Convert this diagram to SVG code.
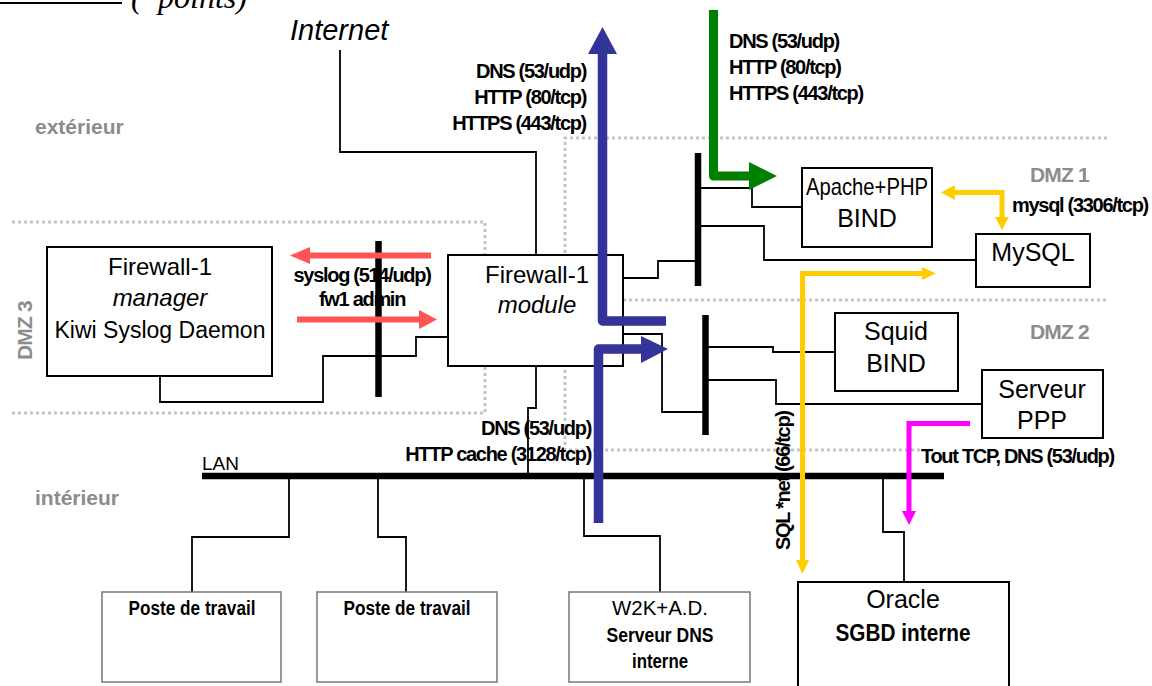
<svg xmlns="http://www.w3.org/2000/svg" width="1152" height="686" viewBox="0 0 1152 686">
<style>
  .box { fill: #fff; stroke: #000; stroke-width: 2; }
  .gbox { fill: #fff; stroke: #777; stroke-width: 1.5; }
  .wire { fill: none; stroke: #000; stroke-width: 1.8; }
  .bar { fill: none; stroke: #000; stroke-width: 6.5; }
  .zone { fill: none; stroke: #c4c4c4; stroke-width: 3; stroke-dasharray: 3 3; }
  .t { font-family: "Liberation Sans", Arial, sans-serif; fill: #000; }
  .n { text-anchor: middle; }
  .lbl { font-family: "Liberation Sans", Arial, sans-serif; font-weight: bold; font-size: 20px; letter-spacing: -1.3px; fill: #000; }
  .zl { font-family: "Liberation Sans", Arial, sans-serif; font-weight: bold; font-size: 21px; fill: #8c8c8c; }
  .blue { fill: none; stroke: #333399; stroke-width: 9.5; stroke-linejoin: round; }
  .green { fill: none; stroke: #008000; stroke-width: 9; stroke-linejoin: round; }
  .red { fill: none; stroke: #ff5555; stroke-width: 6; }
  .yel { fill: none; stroke: #ffcc00; stroke-width: 5; }
  .mag { fill: none; stroke: #ff00ff; stroke-width: 5; }
</style>

<!-- cut-off header -->
<line x1="0" y1="3" x2="122" y2="3" stroke="#000" stroke-width="2"/>
<text font-family="Liberation Serif, serif" font-style="italic" font-size="32" y="8"><tspan x="131">(</tspan><tspan x="158">points)</tspan></text>

<!-- zones -->
<g id="zones">
  <polyline class="zone" points="1107,138 565,138 565,450 920,450"/>
  <polyline class="zone" points="12,222 485,222 485,413 12,413"/>
  <line class="zone" x1="623" y1="300" x2="1107" y2="300"/>
  <text class="zl" x="35" y="134">extérieur</text>
  <text class="zl" x="35" y="505">intérieur</text>
  <text class="zl" x="1030" y="182" letter-spacing="-0.8">DMZ 1</text>
  <text class="zl" x="1030" y="339" letter-spacing="-0.8">DMZ 2</text>
  <text class="zl" transform="translate(32,360) rotate(-90)" letter-spacing="-0.8">DMZ 3</text>
</g>

<!-- connectors -->
<g id="connectors">
  <polyline class="wire" points="340,50 340,152 536,152 536,255"/>
  <polyline class="wire" points="623,278 658,278 658,261 697,261"/>
  <polyline class="wire" points="698,188 752,188 752,207 802,207"/>
  <polyline class="wire" points="698,226 764,226 764,260 976,260"/>
  <polyline class="wire" points="623,334 662,334 662,412 705,412"/>
  <polyline class="wire" points="705,347 773,347 773,352 835,352"/>
  <polyline class="wire" points="705,380 776,380 776,404 982,404"/>
  <polyline class="wire" points="448,337 416,337 416,356 323,356 323,402 160,402 160,376"/>
  <polyline class="wire" points="536,366 536,408 528,408 528,476"/>
  <polyline class="wire" points="289,476 289,537 192,537 192,592"/>
  <polyline class="wire" points="378,476 378,537 406,537 406,592"/>
  <polyline class="wire" points="584,476 584,536 660,536 660,592"/>
  <polyline class="wire" points="883,476 883,532 904,532 904,582"/>
  <!-- bus bars -->
  <line class="bar" x1="378.5" y1="241" x2="378.5" y2="397"/>
  <line class="bar" x1="698" y1="153" x2="698" y2="286"/>
  <line class="bar" x1="705.5" y1="315" x2="705.5" y2="435"/>
  <line class="bar" x1="202" y1="476" x2="944" y2="476"/>
  <text class="t" x="202" y="470" font-size="19">LAN</text>
  <text class="t" x="290" y="40" font-size="29" font-style="italic">Internet</text>
</g>

<!-- nodes -->
<g id="fw-manager">
  <rect class="box" x="47" y="247" width="225" height="129"/>
  <text class="t n" x="160" y="275" font-size="24">Firewall-1</text>
  <text class="t n" x="160" y="306" font-size="24" font-style="italic">manager</text>
  <text class="t n" x="160" y="338" font-size="23">Kiwi Syslog Daemon</text>
</g>
<g id="fw-module">
  <rect class="box" x="448" y="255" width="175" height="111"/>
  <text class="t n" x="537" y="283" font-size="24">Firewall-1</text>
  <text class="t n" x="537" y="313" font-size="24" font-style="italic">module</text>
</g>
<g id="apache">
  <rect class="box" x="802" y="168" width="130" height="79"/>
  <text class="t n" x="867" y="195" font-size="24" textLength="122" lengthAdjust="spacingAndGlyphs">Apache+PHP</text>
  <text class="t n" x="867" y="227" font-size="25">BIND</text>
</g>
<g id="mysql">
  <rect class="box" x="976" y="234" width="114" height="53"/>
  <text class="t n" x="1033" y="261" font-size="25">MySQL</text>
</g>
<g id="squid">
  <rect class="box" x="835" y="313" width="123" height="78"/>
  <text class="t n" x="896" y="340" font-size="25">Squid</text>
  <text class="t n" x="896" y="372" font-size="25">BIND</text>
</g>
<g id="ppp">
  <rect class="box" x="982" y="370" width="121" height="68"/>
  <text class="t n" x="1042" y="398" font-size="25">Serveur</text>
  <text class="t n" x="1042" y="429" font-size="25">PPP</text>
</g>
<g id="poste1">
  <rect class="gbox" x="102" y="592" width="179" height="90"/>
  <text class="t n" x="192" y="615" font-size="20" font-weight="bold" textLength="127" lengthAdjust="spacingAndGlyphs">Poste de travail</text>
</g>
<g id="poste2">
  <rect class="gbox" x="317" y="592" width="180" height="90"/>
  <text class="t n" x="407" y="615" font-size="20" font-weight="bold" textLength="127" lengthAdjust="spacingAndGlyphs">Poste de travail</text>
</g>
<g id="w2k">
  <rect class="gbox" x="569" y="592" width="181" height="90"/>
  <text class="t n" x="660" y="615" font-size="20" textLength="96" lengthAdjust="spacingAndGlyphs">W2K+A.D.</text>
  <text class="t n" x="660" y="642" font-size="20" font-weight="bold" textLength="107" lengthAdjust="spacingAndGlyphs">Serveur DNS</text>
  <text class="t n" x="660" y="668" font-size="20" font-weight="bold" textLength="56" lengthAdjust="spacingAndGlyphs">interne</text>
</g>
<g id="oracle">
  <rect class="box" x="798" y="582" width="211" height="120"/>
  <text class="t n" x="903" y="608" font-size="25">Oracle</text>
  <text class="t n" x="903" y="641" font-size="23" font-weight="bold" textLength="135" lengthAdjust="spacingAndGlyphs">SGBD interne</text>
</g>

<!-- flow arrows -->
<g id="flows">
  <!-- blue outbound -->
  <polyline class="blue" points="666,321 602.5,321 602.5,52"/>
  <polygon points="588,54 617,54 602.5,27" fill="#333399"/>
  <text class="lbl" x="586" y="78" text-anchor="end">DNS (53/udp)</text>
  <text class="lbl" x="586" y="104" text-anchor="end">HTTP (80/tcp)</text>
  <text class="lbl" x="586" y="130" text-anchor="end">HTTPS (443/tcp)</text>
  <!-- blue LAN to proxy -->
  <polyline class="blue" points="598.5,523 598.5,349 643,349"/>
  <polygon points="641,336 641,363 668,349" fill="#333399"/>
  <text class="lbl" x="591" y="435" text-anchor="end">DNS (53/udp)</text>
  <text class="lbl" x="591" y="461" text-anchor="end">HTTP cache (3128/tcp)</text>
  <!-- green inbound -->
  <polyline class="green" points="713.5,10 713.5,176 751,176"/>
  <polygon points="749,162 749,190 777,176" fill="#008000"/>
  <text class="lbl" x="729" y="48">DNS (53/udp)</text>
  <text class="lbl" x="729" y="74">HTTP (80/tcp)</text>
  <text class="lbl" x="729" y="100">HTTPS (443/tcp)</text>
  <!-- red admin -->
  <line class="red" x1="431" y1="255.5" x2="308" y2="255.5"/>
  <polygon points="310,247 310,264 290,255.5" fill="#ff5555"/>
  <line class="red" x1="297" y1="319.5" x2="421" y2="319.5"/>
  <polygon points="419,310 419,329 437,319.5" fill="#ff5555"/>
  <text class="lbl" x="362" y="282" text-anchor="middle">syslog (514/udp)</text>
  <text class="lbl" x="362" y="306" text-anchor="middle">fw1 admin</text>
  <!-- yellow mysql -->
  <polyline class="yel" points="954,192.5 1002,192.5 1002,219"/>
  <polygon points="955,185 955,200 941,192.5" fill="#ffcc00"/>
  <polygon points="995,217 1009,217 1002,230" fill="#ffcc00"/>
  <text class="lbl" x="1012" y="212">mysql (3306/tcp)</text>
  <!-- yellow SQL*net -->
  <polyline class="yel" points="924,273.5 802.5,273.5 802.5,562"/>
  <polygon points="922,267 922,280 936,273.5" fill="#ffcc00"/>
  <polygon points="796,560 809,560 802.5,574" fill="#ffcc00"/>
  <text class="lbl" transform="translate(790,550) rotate(-90)">SQL *net (66/tcp)</text>
  <!-- magenta -->
  <polyline class="mag" points="970,423.5 909,423.5 909,513"/>
  <polygon points="902,511 916,511 909,525" fill="#ff00ff"/>
  <text class="lbl" x="921" y="463">Tout TCP, DNS (53/udp)</text>
</g>
</svg>
